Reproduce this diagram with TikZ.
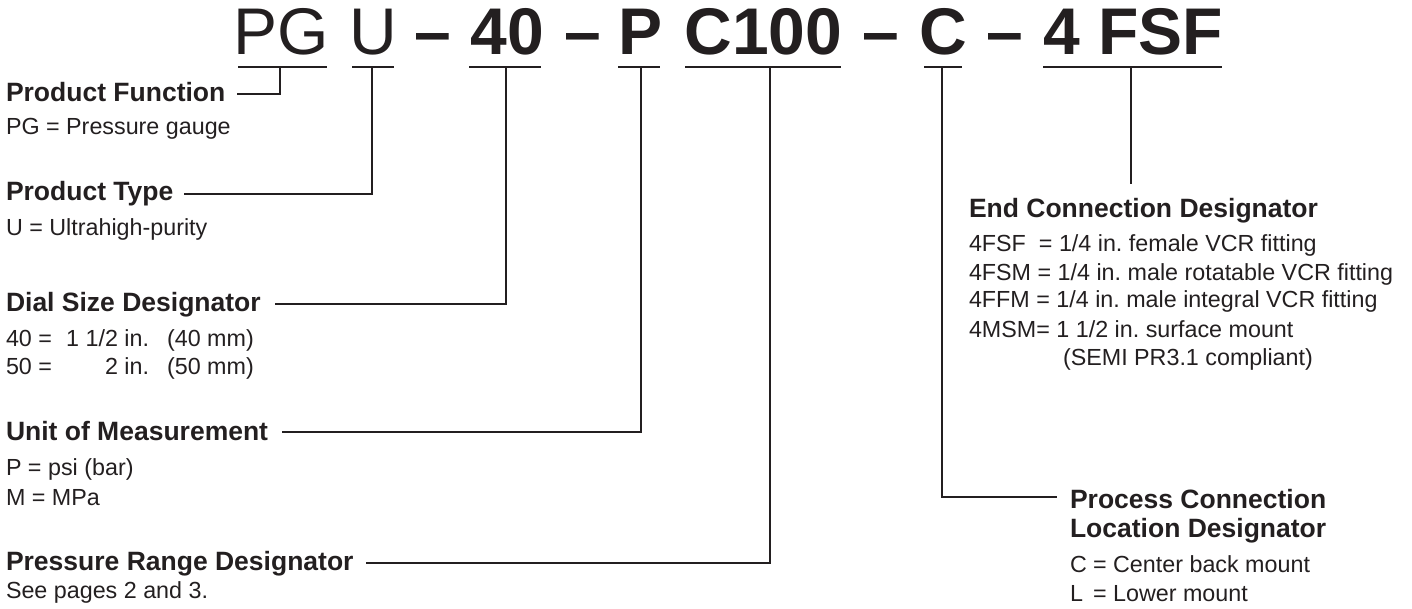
\documentclass[tikz,border=0pt]{standalone}
\usepackage{fontspec}
\setmainfont{Liberation Sans}
\usetikzlibrary{calc}
\definecolor{ink}{HTML}{231F20}
\frenchspacing
\begin{document}
\begin{tikzpicture}[x=1pt,y=-1pt,
  every node/.style={inner sep=0pt, outer sep=0pt, text=ink},
  code/.style={anchor=base, font=\fontsize{66}{66}\selectfont},
  codeb/.style={anchor=base, font=\fontsize{66}{66}\selectfont\bfseries},
  head/.style={anchor=base west, font=\fontsize{26.5}{30}\selectfont\bfseries},
  body/.style={anchor=base west, font=\fontsize{23.3}{28}\selectfont\frenchspacing},
  link/.style={draw=ink, line width=2.4pt},
  uline/.style={draw=ink, line width=2.2pt}]
\useasboundingbox (0,0) rectangle (1412,609);

% model code
\node[code]  (cPG)   at (281.5,55)  {PG};
\node[code]  (cU)    at (373.5,55)  {U};
\node[codeb] (d1)    at (433,55)    {–};
\node[codeb] (c40)   at (507.5,55)  {40};
\node[codeb] (d2)    at (582.5,55)  {–};
\node[codeb] (cP)    at (641,55)    {P};
\node[codeb] (cC100) at (763.5,55)  {C100};
\node[codeb] (d3)    at (880.5,55)  {–};
\node[codeb] (cC)    at (943,55)    {C};
\node[codeb] (d4)    at (1005,55)   {–};
\node[codeb] (cFSF)  at (1133.5,55) {4 FSF};

% underlines
\draw[uline] (238,67) -- (327,67);
\draw[uline] (352,67) -- (394,67);
\draw[uline] (469,67) -- (541,67);
\draw[uline] (618,67) -- (660,67);
\draw[uline] (685,67) -- (841,67);
\draw[uline] (924,67) -- (962,67);
\draw[uline] (1043,67) -- (1222,67);
\coordinate (uPG)   at (280,67);
\coordinate (uU)    at (372,67);
\coordinate (u40)   at (506,67);
\coordinate (uP)    at (641,67);
\coordinate (uC100) at (770,67);
\coordinate (uC)    at (942,67);
\coordinate (uFSF)  at (1131,67);
\coordinate (ecEnd) at (1131,184);

% left column
\node[head] (hPF) at (6,102) {Product Function};
\node[body] (tPF) at (6,135) {PG = Pressure gauge};
\node[head] (hPT) at (6,201) {Product Type};
\node[body] (tPT) at (6,236) {U = Ultrahigh-purity};
\node[head] (hDS) at (6,312) {Dial Size Designator};
\node[body] (tDS1) at (6,346) {\makebox[61pt][l]{40 =}\makebox[51pt][r]{1 1/2} in.\hspace{18pt}(40 mm)};
\node[body] (tDS2) at (6,374) {\makebox[61pt][l]{50 =}\makebox[51pt][r]{2} in.\hspace{18pt}(50 mm)};
\node[head] (hUM) at (6,440) {Unit of Measurement};
\node[body] (tUM1) at (6,475) {P = psi (bar)};
\node[body] (tUM2) at (6,505) {M = MPa};
\node[head] (hPR) at (6,570) {Pressure Range Designator};
\node[body] (tPR) at (6,598) {See pages 2 and 3.};

% right column
\node[head] (hEC) at (969,218) {End Connection Designator};
\node[body] (tEC1) at (969,252) {4FSF\ \ = 1/4 in. female VCR fitting};
\node[body] (tEC2) at (969,280) {4FSM = 1/4 in. male rotatable VCR fitting};
\node[body] (tEC3) at (969,308) {4FFM = 1/4 in. male integral VCR fitting};
\node[body] (tEC4) at (969,337) {4MSM= 1 1/2 in. surface mount};
\node[body] (tEC5) at (1063,365) {(SEMI PR3.1 compliant)};
\node[head] (hPC1) at (1070,508) {Process Connection};
\node[head] (hPC2) at (1070,537) {Location Designator};
\node[body] (tPC1) at (1070,572) {\makebox[16.6pt][l]{C} = Center back mount};
\node[body] (tPC2) at (1070,601) {\makebox[16.6pt][l]{L} = Lower mount};

% connectors
\draw[link] (uPG)   |- ($(hPF.base east)+(12,-8)$);
\draw[link] (uU)    |- ($(hPT.base east)+(11,-7)$);
\draw[link] (u40)   |- ($(hDS.base east)+(14,-8)$);
\draw[link] (uP)    |- ($(hUM.base east)+(14,-8)$);
\draw[link] (uC100) |- ($(hPR.base east)+(12,-7)$);
\draw[link] (uC)    |- ($(hPC1.base west)+(-13,-11)$);
\draw[link] (uFSF)  -- (ecEnd);
\end{tikzpicture}
\end{document}
